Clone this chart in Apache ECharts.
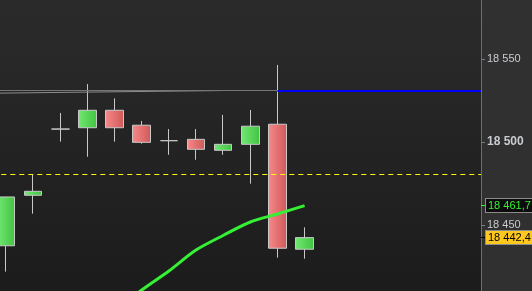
<!DOCTYPE html>
<html>
<head>
<meta charset="utf-8">
<style>
  html, body { margin: 0; padding: 0; background: #303030; }
  #chart { width: 532px; height: 291px; }
</style>
<script src="https://cdn.jsdelivr.net/npm/echarts@6/dist/echarts.min.js"></script>
</head>
<body>
<div id="chart"></div>
<script>
// 5-minute bars; first slot sits off-screen on the left, the last ones are empty space
const times = ['09:00', '09:05', '09:10', '09:15', '09:20', '09:25', '09:30', '09:35', '09:40', '09:45',
  '09:50', '09:55', '10:00', '10:05', '10:10', '10:15', '10:20', '10:25', '10:30'];
const firstBar = 1;

const opens  = [18437.5, 18467.9, 18507.8, 18508.6, 18519.1, 18510.1, 18500.8, 18501.6, 18495.0, 18498.6, 18510.7, 18435.4];
const closes = [18466.9, 18470.3, 18507.8, 18519.1, 18508.6, 18499.8, 18500.8, 18495.6, 18498.6, 18509.5, 18436.0, 18442.4];
const lows   = [18421.9, 18456.8, 18500.2, 18491.1, 18500.2, 18499.0, 18492.3, 18489.3, 18492.3, 18474.9, 18430.3, 18429.7];
const highs  = [18467.0, 18480.5, 18517.5, 18534.9, 18526.3, 18512.7, 18507.8, 18507.8, 18516.3, 18519.3, 18546.4, 18448.6];
const maValues = [null, null, null, null, 18398.0, 18410.8, 18422.3, 18434.9, 18443.7, 18451.8, 18456.6, 18461.7];

const resistance = 18531;      // gray / blue level
const trendStart = 18529.3;    // faint gray line start
const dashedLevel = 18480.5;   // yellow dashed level
const yMin = 18400, yMax = 18600, yStep = 50;

const FONT = 'Liberation Sans, Arial, sans-serif';

function fmt(v, d) {
  const s = v.toFixed(d).split('.');
  const int = s[0].replace(/\B(?=(\d{3})+(?!\d))/g, ' ');
  return s[1] ? int + ',' + s[1] : int;
}

const candleData = times.map((t, i) => {
  const k = i - firstBar;
  return k >= 0 && k < opens.length ? [opens[k], closes[k], lows[k], highs[k]] : '-';
});
const maData = times.map((t, i) => {
  const k = i - firstBar;
  return k >= 0 && k < maValues.length && maValues[k] != null ? maValues[k] : '-';
});

const lastIdx = firstBar + opens.length - 1;
const lastClose = closes[closes.length - 1];
const lastMa = maValues[maValues.length - 1];
const endCat = times[times.length - 1];

function hGrad(a, b) {
  return { type: 'linear', x: 0, y: 0, x2: 1, y2: 0, colorStops: [{ offset: 0, color: a }, { offset: 1, color: b }] };
}

function priceTag(value, lineColor, textColor, bg) {
  return [
    { xAxis: endCat, yAxis: value, x: 481, lineStyle: { color: lineColor, width: 1, type: 'solid' },
      label: {
        show: true, position: 'end', distance: 1, formatter: fmt(value, 1),
        color: textColor, backgroundColor: bg, borderColor: '#8c8c8c', borderWidth: 1,
        padding: [1, 2, 0, 2], fontSize: 11, lineHeight: 12, fontFamily: FONT
      } },
    { xAxis: endCat, yAxis: value, x: 485 }
  ];
}

const chart = echarts.init(document.getElementById('chart'));

chart.setOption({
  animation: false,
  backgroundColor: '#303030',
  grid: {
    left: -34.7, right: 51, top: -24, bottom: -17,
    outerBoundsMode: 'none',
    show: true, borderWidth: 0,
    backgroundColor: { type: 'linear', x: 0, y: 0, x2: 0, y2: 1,
      colorStops: [{ offset: 0, color: '#2c2c2c' }, { offset: 1, color: '#1b1b1b' }] }
  },
  xAxis: {
    type: 'category', data: times, show: false
  },
  yAxis: {
    type: 'value', position: 'right', min: yMin, max: yMax, interval: yStep,
    axisLine: { show: true, lineStyle: { color: '#6e6e6e', width: 1 } },
    axisTick: { show: true, length: 4, lineStyle: { color: '#7a7a7a' } },
    splitLine: { show: false },
    axisLabel: {
      margin: 6, color: '#c8ccd0', fontSize: 11, fontFamily: FONT,
      formatter: v => v % 100 === 0 ? '{b|' + fmt(v, 0) + '}' : fmt(v, 0),
      rich: { b: { fontWeight: 'bold', fontSize: 12, color: '#c8ccd0', fontFamily: FONT } }
    }
  },
  series: [
    {
      type: 'candlestick',
      data: candleData,
      barWidth: 18,
      clip: false,
      itemStyle: {
        color: hGrad('#74e874', '#40c340'),
        color0: hGrad('#f88a8a', '#cf5858'),
        borderColor: '#c8c8c8',
        borderColor0: '#c8c8c8',
        borderColorDoji: '#c8c8c8',
        borderWidth: 1
      },
      markLine: {
        symbol: ['none', 'none'],
        silent: true,
        animation: false,
        label: { show: false },
        data: [
          { yAxis: dashedLevel, lineStyle: { color: '#ffff00', type: [5, 4], width: 1 } },
          [{ xAxis: times[0], yAxis: trendStart, lineStyle: { color: '#8c8c8c', width: 1, type: 'solid' } },
           { xAxis: times[9], yAxis: resistance }],
          [{ xAxis: times[0], yAxis: resistance, lineStyle: { color: '#767676', width: 1, type: 'solid' } },
           { xAxis: times[lastIdx - 1], yAxis: resistance }],
          [{ xAxis: times[lastIdx - 1], yAxis: resistance, lineStyle: { color: '#0000ff', width: 2, type: 'solid' } },
           { xAxis: endCat, yAxis: resistance, x: 481 }],
          priceTag(lastClose, '#000000', '#000000', '#ffc81e')
        ]
      }
    },
    {
      type: 'line',
      data: maData,
      smooth: 0.3,
      symbol: 'none',
      clip: false,
      lineStyle: { color: '#35f035', width: 3 },
      markLine: {
        symbol: ['none', 'none'],
        silent: true,
        animation: false,
        label: { show: false },
        data: [priceTag(lastMa, '#35f035', '#35f035', '#0c0c0c')]
      }
    }
  ]
});
</script>
</body>
</html>
